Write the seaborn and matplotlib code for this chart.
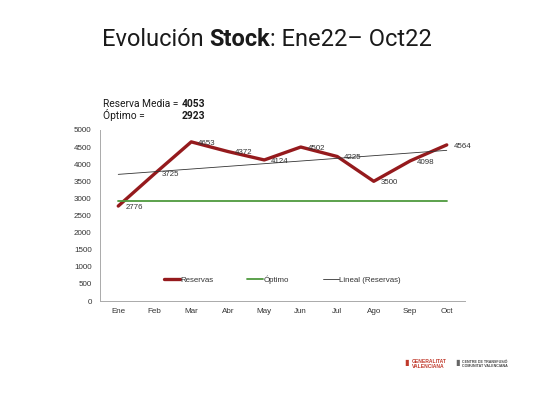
import numpy as np
import pandas as pd
import matplotlib
matplotlib.use("Agg")
import matplotlib.pyplot as plt
import seaborn as sns

# Datos
meses = ["Ene", "Feb", "Mar", "Abr", "May", "Jun", "Jul", "Ago", "Sep", "Oct"]
reservas = [2776, 3725, 4653, 4372, 4124, 4502, 4225, 3500, 4098, 4564]
optimo = [2923] * 10
reserva_media = 4053
optimo_valor = 2923

sns.set_style("white")
plt.rcParams["font.family"] = ["Liberation Sans", "DejaVu Sans"]

df = pd.DataFrame({"mes": meses, "x": np.arange(len(meses)), "Reservas": reservas, "Óptimo": optimo})
# Tendencia lineal (como la línea de tendencia de Excel)
coef = np.polyfit(df["x"], df["Reservas"], 1)
df["Lineal (Reservas)"] = np.polyval(coef, df["x"])

fig = plt.figure(figsize=(5.33, 4.0), dpi=100)
fig.patch.set_facecolor("white")
ax = fig.add_axes([100 / 533, 1 - 301 / 400, 365 / 533, 171 / 400])

sns.lineplot(ax=ax, data=df, x="x", y="Reservas", color="#951a1d", linewidth=2.4, label="Reservas")
sns.lineplot(ax=ax, data=df, x="x", y="Óptimo", color="#4e9a3e", linewidth=1.3, label="Óptimo")
sns.lineplot(ax=ax, data=df, x="x", y="Lineal (Reservas)", color="#333333", linewidth=0.6, label="Lineal (Reservas)")

for xi, yi in zip(df["x"], df["Reservas"]):
    ax.annotate(str(yi), (xi, yi), xytext=(5, -1), textcoords="offset points",
                fontsize=5.7, color="#333333", ha="left", va="center")

ax.set_xlim(-0.5, len(meses) - 0.5)
ax.set_ylim(0, 5000)
ax.set_yticks(np.arange(0, 5001, 500))
ax.set_xticks(df["x"])
ax.set_xticklabels(meses)
ax.set_xticks(np.arange(-0.5, len(meses), 1), minor=True)
ax.tick_params(axis="x", which="major", length=0, labelsize=5.8, colors="#333333", pad=5)
ax.tick_params(axis="x", which="minor", length=3, color="#aaaaaa", direction="out")
ax.tick_params(axis="y", length=3, color="#aaaaaa", labelsize=5.8, labelcolor="#333333", direction="out", pad=3)
ax.set_xlabel("")
ax.set_ylabel("")
for s in ["top", "right"]:
    ax.spines[s].set_visible(False)
for s in ["left", "bottom"]:
    ax.spines[s].set_color("#aaaaaa")
    ax.spines[s].set_linewidth(0.7)
ax.grid(False)

ax.legend(loc="center", bbox_to_anchor=(0.5, 0.123), ncol=3, frameon=False,
          fontsize=5.7, handlelength=2.0, handletextpad=0.05, columnspacing=4.3, labelcolor="#333333")

# Título con partes en negrita
def texto_partes(x, y, partes, size, family):
    r = fig.canvas.get_renderer()
    for txt, peso in partes:
        t = fig.text(x, y, txt, fontsize=size, fontweight=peso, family=family,
                     color="#1a1a1a", ha="left", va="baseline")
        bb = t.get_window_extent(renderer=r)
        x += bb.width / fig.bbox.width

texto_partes(102 / 533, 1 - 46 / 400,
             [("Evolución ", "normal"), ("Stock", "bold"), (": Ene22– Oct22", "normal")], 17.0, "Roboto")

fig.text(103 / 533, 1 - 107 / 400, "Reserva Media = ", fontsize=7.4, family="Roboto", color="#1a1a1a", va="baseline")
fig.text(182 / 533, 1 - 107 / 400, str(reserva_media), fontsize=7.4, family="Roboto", fontweight="bold", color="#1a1a1a", va="baseline")
fig.text(103 / 533, 1 - 119 / 400, "Óptimo = ", fontsize=7.4, family="Roboto", color="#1a1a1a", va="baseline")
fig.text(182 / 533, 1 - 119 / 400, str(optimo_valor), fontsize=7.4, family="Roboto", fontweight="bold", color="#1a1a1a", va="baseline")

# Logos (texto)
fig.text(412 / 533, 1 - 364 / 400, "GENERALITAT\nVALENCIANA", fontsize=3.6, color="#c0392b",
         fontweight="bold", va="center", linespacing=1.0)
fig.text(404 / 533, 1 - 364 / 400, "▮", fontsize=6, color="#c0392b", va="center")
fig.text(462 / 533, 1 - 364 / 400, "CENTRE DE TRANSFUSIÓ\nCOMUNITAT VALENCIANA", fontsize=2.6, color="#444444",
         fontweight="bold", va="center", linespacing=1.0)
fig.text(455 / 533, 1 - 364 / 400, "▮", fontsize=6, color="#666666", va="center")

fig.savefig("out.png", dpi=100)
